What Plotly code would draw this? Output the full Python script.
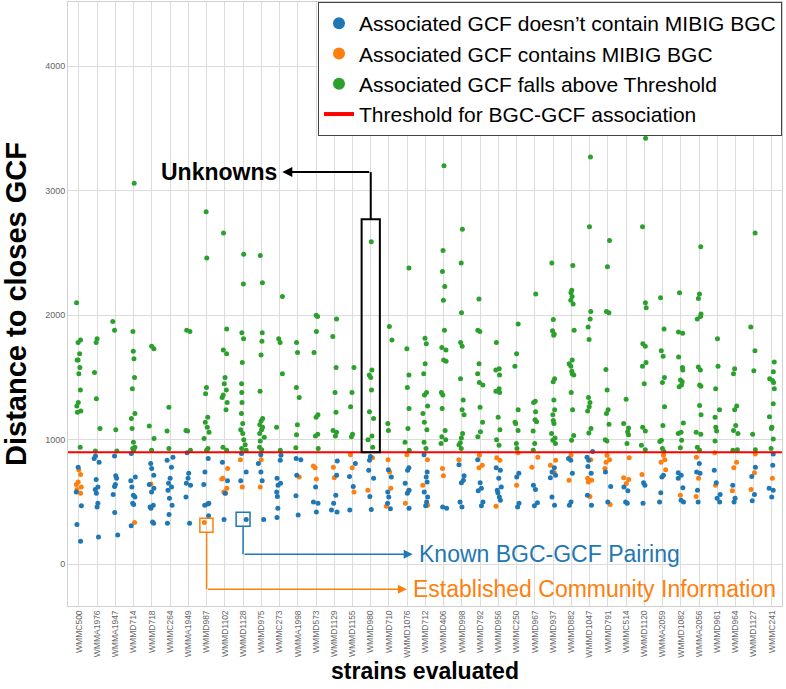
import plotly.graph_objects as go

strains = ["WMMC500", "WMMA1976", "WMMA1947", "WMMD714", "WMMD718", "WMMC264", "WMMA1949",
           "WMMD987", "WMMD1102", "WMMD1128", "WMMD975", "WMMC273", "WMMA1998", "WMMD573",
           "WMMD1129", "WMMD1155", "WMMD980", "WMMD710", "WMMD1076", "WMMD712", "WMMD406",
           "WMMD998", "WMMD792", "WMMD956", "WMMC250", "WMMD967", "WMMD937", "WMMD882",
           "WMMD1047", "WMMD791", "WMMC514", "WMMD1120", "WMMA2059", "WMMD1082", "WMMA2056",
           "WMMD961", "WMMD964", "WMMD1127", "WMMC241"]

# GCF has no MIBIG BGC (below threshold)
blue_vals = [
    [780, 580, 470, 320, 185],
    [870, 850, 820, 680, 620, 600, 570, 490, 460, 220],
    [870, 710, 690, 640, 625, 560, 415, 235],
    [890, 700, 670, 620, 555, 540, 490, 480, 310],
    [810, 770, 715, 640, 610, 580, 475, 460, 450, 340, 330],
    [860, 835, 780, 690, 650, 620, 595, 530, 475, 400, 330],
    [895, 730, 690, 650, 635, 540, 330],
    [850, 740, 640, 490, 485, 475, 390],
    [820, 670, 570, 360],
    [890, 740, 670, 360],
    [880, 810, 740, 670, 360],
    [875, 835, 690, 650, 635, 580, 545, 450, 375],
    [850, 840, 715, 550, 395],
    [620, 500, 490, 420],
    [830, 715, 555, 490, 435, 420],
    [810, 705, 625, 435],
    [865, 835, 755, 690, 545, 440],
    [760, 700, 580, 540, 490, 445],
    [775, 755, 650, 595, 570, 450],
    [880, 740, 700, 660, 580, 540, 500, 470],
    [460, 450],
    [800, 710, 675, 655, 500, 460],
    [840, 655, 610, 590, 500, 470],
    [775, 755, 690, 620, 595, 575, 540, 515],
    [730, 700, 490, 460],
    [635, 600, 495, 470],
    [775, 740, 715, 695, 540, 475],
    [850, 835, 730, 500, 475],
    [905, 860, 835, 785, 730, 555, 475],
    [740, 625, 500],
    [620, 590, 500, 490],
    [655, 635, 490],
    [715, 700, 575, 500],
    [735, 715, 690, 615, 515, 500],
    [810, 740, 730, 595, 500],
    [755, 655, 560, 530, 500],
    [635, 530, 500],
    [780, 705, 560, 510],
    [885, 795, 610, 595, 540],
]

# GCF contains a MIBIG BGC
orange_vals = [
    [760, 720, 660, 640, 620, 600, 570],
    [],
    [],
    [335],
    [645],
    [],
    [],
    [335],
    [770, 690, 685, 610, 580, 570],
    [840, 620],
    [840, 620],
    [],
    [700],
    [790, 775, 685],
    [780, 695],
    [880, 775, 580],
    [855, 595],
    [840, 740, 610, 465],
    [880, 595, 490],
    [840, 635, 475],
    [770, 710],
    [840],
    [875, 795, 775],
    [855, 835, 465],
    [895, 635],
    [860, 780],
    [835, 795, 735],
    [875, 675],
    [840, 690, 675, 660, 545],
    [875, 840, 820, 770, 480],
    [855, 695, 680, 648],
    [720],
    [875, 840, 820, 760],
    [555],
    [860, 690, 545],
    [895, 635],
    [820, 775, 590],
    [885, 735, 600],
    [690],
]

# GCF falls above threshold
green_vals = [
    [2100, 1800, 1780, 1690, 1640, 1640, 1580, 1530, 1400, 1300, 1270, 1230, 1220, 940],
    [1810, 1780, 1540, 1330, 1090, 910],
    [1950, 1880, 1080, 910],
    [3060, 1870, 1710, 1650, 1500, 1410, 1210, 1170, 1090, 980, 940, 930, 915],
    [1750, 1730, 1110, 1010, 915],
    [1260, 1070, 930],
    [1880, 1870, 1075, 1070, 915],
    [2830, 2460, 1420, 1370, 1180, 1140, 1100, 1060, 1010, 930, 915],
    [2660, 1890, 1720, 1690, 1500, 1450, 1400, 1360, 1340, 1300, 1240, 940, 915],
    [2490, 2250, 1860, 1810, 1620, 1450, 1380, 1300, 1210, 1130, 1080, 1050, 1000, 960, 930, 915],
    [2480, 2260, 1860, 1790, 1680, 1390, 1170, 1150, 1120, 1100, 1080, 1050, 1020, 990, 940, 920],
    [2150, 1810, 1780, 1530, 1100, 915],
    [1780, 1700, 1420, 1340, 1120, 1040, 935],
    [2000, 1990, 1870, 1700, 1200, 1180, 1045, 1030, 930],
    [1970, 1830, 1580, 1380, 1220, 1075, 1060, 1030],
    [1580, 1380, 1265, 1045, 1025],
    [2590, 1560, 1520, 1500, 1400, 1225, 1170, 1030, 1000, 940],
    [1910, 1800, 1130, 1075],
    [2380, 1730, 1520, 1420, 1250, 1090, 980, 915],
    [1815, 1770, 1610, 1530, 1380, 1360, 1270, 1210, 1140, 1080, 980, 930],
    [3200, 2520, 2350, 2230, 2120, 1880, 1740, 1720, 1640, 1630, 1380, 1360, 1250, 1075, 1025, 1000, 970],
    [2690, 2420, 2020, 1780, 1750, 1490, 1320, 1240, 1200, 1050, 1015, 975, 960, 930],
    [2130, 1880, 1870, 1610, 1530, 1460, 1440, 1260, 1140, 1065, 1025],
    [1780, 1570, 1560, 1520, 1410, 1390, 1380, 1180, 1080, 1000, 955],
    [1930, 1690, 1590, 1240, 1140, 1130, 1075, 970, 930],
    [2170, 1310, 1300, 1225, 1160, 1145, 1070, 970, 915],
    [2420, 1965, 1875, 1850, 1840, 1490, 1465, 1320, 1240, 1200, 1155, 1130, 1050, 1015, 995, 970],
    [2400, 2200, 2180, 2150, 2120, 2090, 1880, 1640, 1610, 1590, 1550, 1530, 1520, 1380, 1240, 1035, 995],
    [3270, 2710, 2030, 1970, 1905, 1805, 1340, 1300, 1265, 1230, 1090, 1055],
    [2600, 2390, 2030, 2020, 1565, 1400, 1240, 1210, 1125, 1000, 990],
    [1325, 1130, 1095, 1065, 1040, 970],
    [3420, 2710, 2100, 2060, 1770, 1750, 1620, 1590, 1450, 1100, 1070, 955, 920],
    [2140, 1890, 1715, 1670, 1500, 1460, 1265, 1115, 995, 985, 930, 905],
    [2180, 1865, 1855, 1665, 1580, 1560, 1480, 1465, 1440, 1425, 1135, 1060, 1050, 995, 935],
    [2550, 2170, 2135, 2010, 1990, 1970, 1585, 1560, 1440, 1430, 1275, 1200, 1060, 1045, 940, 915],
    [1810, 1590, 1410, 1240, 1180, 1100, 1070, 990],
    [1570, 1530, 1270, 1240, 1115, 1075, 1050, 920, 915],
    [2660, 1905, 1715, 1555, 1045, 920],
    [1625, 1545, 1490, 1475, 1460, 1410, 1290, 1185, 1100, 1090, 1005, 930],
]

threshold = 900

BLUE = "#1f77b4"
ORANGE = "#ff7f0e"
GREEN = "#2ca02c"
RED = "#ff0000"
FONT = "Liberation Sans, Arial, sans-serif"


def flatten(groups):
    xs, ys = [], []
    for name, vals in zip(strains, groups):
        for v in vals:
            xs.append(name)
            ys.append(v)
    return xs, ys


fig = go.Figure()

for groups, color in [(green_vals, GREEN), (orange_vals, ORANGE), (blue_vals, BLUE)]:
    xs, ys = flatten(groups)
    fig.add_trace(go.Box(
        x=xs, y=ys, boxpoints="all", jitter=0.7, pointpos=0,
        marker=dict(color=color, size=5),
        line=dict(width=0, color="rgba(0,0,0,0)"),
        fillcolor="rgba(0,0,0,0)", hoveron="points",
        showlegend=False,
    ))

# legend entries
fig.add_trace(go.Scatter(x=[None], y=[None], mode="markers", marker=dict(color=BLUE, size=12),
                         name="Associated GCF doesn\u2019t contain MIBIG BGC"))
fig.add_trace(go.Scatter(x=[None], y=[None], mode="markers", marker=dict(color=ORANGE, size=12),
                         name="Associated GCF contains MIBIG BGC"))
fig.add_trace(go.Scatter(x=[None], y=[None], mode="markers", marker=dict(color=GREEN, size=12),
                         name="Associated GCF falls above Threshold"))
fig.add_trace(go.Scatter(x=[None], y=[None], mode="lines", line=dict(color=RED, width=4),
                         name="Threshold for BGC-GCF association"))

fig.add_hline(y=threshold, line=dict(color=RED, width=2))

# Unknowns callout
fig.add_shape(type="rect", x0=15.5, x1=16.5, y0=threshold, y1=2771,
              line=dict(color="black", width=2))
fig.add_shape(type="line", x0=16, x1=16, y0=2771, y1=3149, line=dict(color="black", width=2))
fig.add_annotation(x=11.15, y=3149, ax=16, ay=3149, axref="x", ayref="y", text="",
                   showarrow=True, arrowhead=2, arrowsize=1, arrowwidth=2, arrowcolor="black",
                   standoff=0, startstandoff=0)
fig.add_annotation(x=10.95, y=3149, text="<b>Unknowns</b>", showarrow=False, xanchor="right",
                   font=dict(size=23, color="black", family=FONT))

# Known pairing callout
fig.add_shape(type="rect", x0=8.62, x1=9.38, y0=305, y1=418, line=dict(color=BLUE, width=1.5))
fig.add_shape(type="line", x0=9, x1=9, y0=305, y1=80, line=dict(color=BLUE, width=1.5))
fig.add_annotation(x=18.3, y=80, ax=9, ay=80, axref="x", ayref="y", text="",
                   showarrow=True, arrowhead=2, arrowsize=1.2, arrowwidth=1.5, arrowcolor=BLUE,
                   standoff=0, startstandoff=0)
fig.add_annotation(x=18.55, y=80, text="Known BGC-GCF Pairing", showarrow=False, xanchor="left",
                   font=dict(size=23, color=BLUE, family=FONT))

# Established community callout
fig.add_shape(type="rect", x0=6.63, x1=7.35, y0=257, y1=369, line=dict(color=ORANGE, width=1.5))
fig.add_shape(type="line", x0=7, x1=7, y0=257, y1=-201, line=dict(color=ORANGE, width=1.5))
fig.add_annotation(x=17.98, y=-201, ax=7, ay=-201, axref="x", ayref="y", text="",
                   showarrow=True, arrowhead=2, arrowsize=1.2, arrowwidth=1.5, arrowcolor=ORANGE,
                   standoff=0, startstandoff=0)
fig.add_annotation(x=18.2, y=-201, text="Established Community Information", showarrow=False,
                   xanchor="left", font=dict(size=23, color=ORANGE, family=FONT))

fig.update_layout(
    width=786, height=689,
    margin=dict(l=68, r=4, t=2, b=83, autoexpand=False),
    paper_bgcolor="white", plot_bgcolor="white",
    boxmode="overlay",
    font=dict(family=FONT, color="black"),
    legend=dict(x=1, xanchor="right", y=1, yanchor="top", bgcolor="white",
                bordercolor="#444", borderwidth=1, font=dict(size=21, color="black"),
                tracegroupgap=0),
    xaxis=dict(
        type="category", categoryorder="array", categoryarray=strains,
        range=[-0.6, 38.55], tickangle=-90, automargin=False,
        tickfont=dict(size=8.5, color="#666"),
        showgrid=True, gridcolor="#dcdcdc",
        showline=True, linecolor="#d0d0d0", mirror=True,
        title=dict(text="<b>strains evaluated</b>", font=dict(size=23, color="black"), standoff=4),
    ),
    yaxis=dict(
        range=[-335, 4515], tickvals=[0, 1000, 2000, 3000, 4000], automargin=False,
        tickfont=dict(size=9, color="#666"),
        showgrid=True, gridcolor="#dcdcdc", zeroline=False,
        showline=True, linecolor="#d0d0d0", mirror=True,
        title=dict(text="<b>Distance to closes GCF</b>", font=dict(size=29, color="black"),
                   standoff=10),
    ),
)

# the page body has a default 8px margin; drop it so the figure fills the window
fig.write_html("out.html", config={"displayModeBar": False},
               post_script="document.body.style.margin = '0';")
